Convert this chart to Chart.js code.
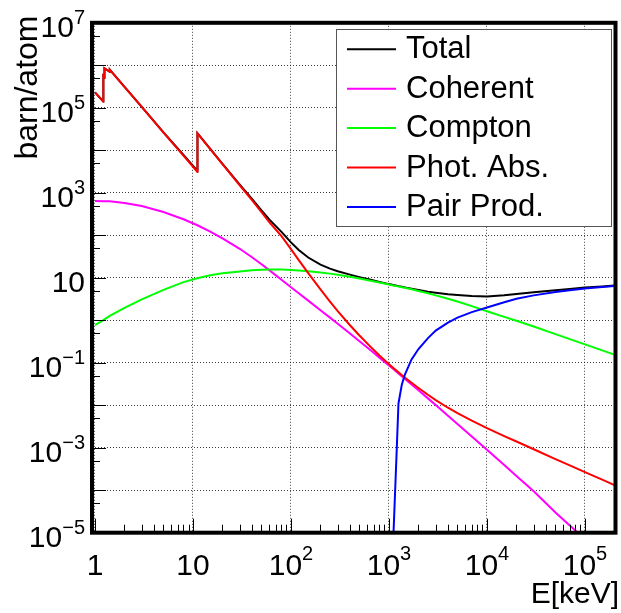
<!DOCTYPE html>
<html>
<head>
<meta charset="utf-8">
<script src="https://cdn.jsdelivr.net/npm/chart.js@4.4.1/dist/chart.umd.min.js"></script>
<style>
  html, body { margin: 0; padding: 0; background: #fff; }
  canvas { display: block; }
</style>
</head>
<body>
<canvas id="c" width="621" height="613"></canvas>
<script>
// photon cross sections, barn/atom, vs energy in keV
const energy = [1, 1.216, 1.217, 1.248, 1.249, 1.414, 1.415, 2, 3, 5, 8, 11.1, 11.11, 15, 20, 30, 40, 50, 60, 80,
  100, 120, 150, 200, 250, 300, 400, 500, 650, 800, 1000, 1022, 1100, 1200, 1250, 1350, 1450, 1700, 2000, 2500,
  3000, 4000, 5000, 7000, 1e4, 1.5e4, 2e4, 3e4, 5e4, 7e4, 1e5, 1.5e5, 2e5];

const total = [2.307e5, 1.406e5, 5.506e5, 5.106e5, 8.506e5, 7.006e5, 7.906e5, 3.106e5, 1.055e5, 2.636e4, 7746, 3282,
  2.518e4, 1.083e4, 4798, 1562, 715, 386, 236, 120, 68, 45, 29.9, 20.3, 16.4, 14.27, 11.85, 10.36, 8.93, 7.98, 7.08,
  7.02, 6.75, 6.48, 6.35, 6.13, 5.94, 5.54, 5.16, 4.71, 4.44, 4.09, 3.91, 3.71, 3.63, 3.85, 4.17, 4.56, 5.07, 5.46,
  5.87, 6.25, 6.56];

const coherent = [640, 635, 635, 634, 634, 630, 630, 577, 489, 353, 238, 172, 172, 122, 84.7, 48, 30.3, 20.8, 15.1, 9.0,
  6.0, 4.33, 2.89, 1.72, 1.15, 0.826, 0.486, 0.321, 0.196, 0.132, 0.0865, 0.083, 0.0718, 0.0607, 0.0561, 0.0483,
  0.0421, 0.0309, 0.0225, 0.0145, 0.0101, 0.00568, 0.00363, 0.00184, 8.9e-4, 3.9e-4, 2.16e-4, 9.4e-5, 3.0e-5,
  1.48e-5, 7.1e-6, 3.0e-6, 1.66e-6];

const compton = [0.77, 1.01, 1.01, 1.05, 1.05, 1.26, 1.26, 1.95, 3.1, 5.2, 7.9, 9.77, 9.77, 11.43, 12.7, 14.1, 15.0,
  15.5, 15.7, 15.6, 15.2, 14.8, 14.2, 13.3, 12.5, 11.8, 10.6, 9.6, 8.5, 7.7, 6.9, 6.85, 6.6, 6.35, 6.22, 6.0, 5.8,
  5.35, 4.9, 4.3, 3.85, 3.2, 2.75, 2.15, 1.63, 1.2, 0.97, 0.71, 0.47, 0.36, 0.27, 0.195, 0.155];

const photAbs = [2.3e5, 1.4e5, 5.5e5, 5.1e5, 8.5e5, 7.0e5, 7.9e5, 3.1e5, 1.05e5, 2.6e4, 7.5e3, 3.1e3, 2.5e4, 1.07e4,
  4.7e3, 1.5e3, 670, 350, 205, 95, 47, 25.9, 12.8, 5.3, 2.75, 1.64, 0.762, 0.437, 0.236, 0.148, 0.0927, 0.0887,
  0.0764, 0.0644, 0.0596, 0.0515, 0.0451, 0.0338, 0.0255, 0.0176, 0.0132, 0.00873, 0.00649, 0.00432, 0.0029,
  0.00188, 0.0014, 9.2e-4, 5.4e-4, 3.85e-4, 2.67e-4, 1.77e-4, 1.32e-4];

const pairProd = [null, null, null, null, null, null, null, null, null, null, null, null, null, null, null, null, null,
  null, null, null, null, null, null, null, null, null, null, null, null, null, null, null, 5e-6, 9e-4, 0.011, 0.03,
  0.052, 0.12, 0.21, 0.38, 0.57, 0.88, 1.15, 1.55, 2.0, 2.65, 3.2, 3.85, 4.6, 5.1, 5.6, 6.05, 6.4];

// axes
const xMin = 0.932, xMax = 2.05e5;
const yMin = 1e-5, yMax = 1e7;
const xGrid = [1, 10, 100, 1e3, 1e4, 1e5];
const yGrid = [1e-5, 1e-4, 1e-3, 1e-2, 1e-1, 1, 10, 100, 1e3, 1e4, 1e5, 1e6, 1e7];
const xTickVals = [1, 10, 100, 1e3, 1e4, 1e5];
const xTickLabels = [['1', ''], ['10', ''], ['10', '2'], ['10', '3'], ['10', '4'], ['10', '5']];
const yTickVals = [1e7, 1e5, 1e3, 10, 1e-1, 1e-3, 1e-5];
const yTickLabels = [['10', '7'], ['10', '5'], ['10', '3'], ['10', ''], ['10', '\u22121'], ['10', '\u22123'], ['10', '\u22125']];

const FONT = '"Liberation Sans", Arial, Helvetica, sans-serif';

function series(label, vals, color, order) {
  return {
    label, order,
    data: energy.map((e, i) => ({x: e, y: vals[i]})),
    borderColor: color, backgroundColor: color,
    borderWidth: 2, pointRadius: 0, tension: 0, fill: false, spanGaps: false
  };
}

function drawPow(ctx, base, exp, x, yb, supUp, align) {
  ctx.font = '30px ' + FONT;
  const wb = ctx.measureText(base).width;
  ctx.font = '20px ' + FONT;
  const we = exp ? ctx.measureText(exp).width : 0;
  const x0 = align === 'right' ? x - wb - we : x - (wb + we) / 2;
  ctx.textAlign = 'left';
  ctx.textBaseline = 'alphabetic';
  ctx.font = '30px ' + FONT;
  ctx.fillText(base, x0, yb);
  if (exp) {
    ctx.font = '20px ' + FONT;
    ctx.fillText(exp, x0 + wb, yb - supUp);
  }
}

const rootStyle = {
  id: 'rootStyle',
  afterDraw(chart) {
    const {ctx, chartArea: a, scales: {x, y}} = chart;
    ctx.save();

    // ticks pointing inward
    ctx.strokeStyle = '#000';
    ctx.lineWidth = 1;
    ctx.beginPath();
    for (let d = 0; d <= 5; d++) {
      for (let m = 1; m <= 9; m++) {
        const v = m * Math.pow(10, d);
        if (v > xMax) break;
        const px = Math.round(x.getPixelForValue(v)) + 0.5;
        ctx.moveTo(px, a.bottom);
        ctx.lineTo(px, a.bottom - (m === 1 ? 14 : 8));
      }
    }
    for (let k = -5; k <= 7; k++) {
      let py = Math.round(y.getPixelForValue(Math.pow(10, k))) + 0.5;
      ctx.moveTo(a.left, py);
      ctx.lineTo(a.left + 14, py);
      if (k > -5) {
        py = Math.round(y.getPixelForValue(5 * Math.pow(10, k - 1))) + 0.5;
        ctx.moveTo(a.left, py);
        ctx.lineTo(a.left + 8, py);
      }
    }
    ctx.stroke();

    // frame
    ctx.lineWidth = 4;
    ctx.strokeRect(a.left, a.top, a.right - a.left, a.bottom - a.top);

    // tick labels
    ctx.fillStyle = '#000';
    xTickVals.forEach((v, i) => {
      drawPow(ctx, xTickLabels[i][0], xTickLabels[i][1], x.getPixelForValue(v), a.bottom + 42, 14.5, 'center');
    });
    yTickVals.forEach((v, i) => {
      drawPow(ctx, yTickLabels[i][0], yTickLabels[i][1], 85, y.getPixelForValue(v) + 14, 12.5, 'right');
    });

    // axis titles
    ctx.font = '30px ' + FONT;
    ctx.textAlign = 'right';
    ctx.textBaseline = 'alphabetic';
    ctx.fillText('E[keV]', 619, 603);
    ctx.save();
    ctx.translate(37, 15.5);
    ctx.rotate(-Math.PI / 2);
    ctx.font = '32px ' + FONT;
    ctx.fillText('barn/atom', 0, 0);
    ctx.restore();

    // legend
    const lx = 336.5, ly = 29.5, lw = 275, lh = 197;
    ctx.fillStyle = '#fff';
    ctx.fillRect(lx, ly, lw, lh);
    ctx.strokeStyle = '#555';
    ctx.lineWidth = 1;
    ctx.strokeRect(lx, ly, lw, lh);
    ctx.font = '31px ' + FONT;
    ctx.textAlign = 'left';
    chart.data.datasets.forEach((ds, i) => {
      const cy = 49.3 + i * 39.4;
      ctx.strokeStyle = ds.borderColor;
      ctx.lineWidth = 2;
      ctx.beginPath();
      ctx.moveTo(347, cy);
      ctx.lineTo(396, cy);
      ctx.stroke();
      ctx.fillStyle = '#000';
      ctx.fillText(ds.label, 406, cy + 9);
    });

    ctx.restore();
  }
};

const gridColor = 'rgba(0,0,0,0.75)';

new Chart(document.getElementById('c'), {
  type: 'line',
  data: {
    datasets: [
      series('Total', total, '#000000', 5),
      series('Coherent', coherent, '#ff00ff', 4),
      series('Compton', compton, '#00ff00', 3),
      series('Phot. Abs.', photAbs, '#ff0000', 2),
      series('Pair Prod.', pairProd, '#0000ff', 1)
    ]
  },
  options: {
    responsive: false,
    animation: false,
    devicePixelRatio: 1,
    layout: {padding: {left: 92, right: 5.5, top: 22.8, bottom: 80.3}},
    plugins: {legend: {display: false}, tooltip: {enabled: false}},
    scales: {
      x: {
        type: 'logarithmic', min: xMin, max: xMax,
        afterBuildTicks: s => { s.ticks = xGrid.map(v => ({value: v})); },
        ticks: {display: false},
        grid: {drawTicks: false, color: gridColor, lineWidth: 1},
        border: {display: false, dash: [1, 2]}
      },
      y: {
        type: 'logarithmic', min: yMin, max: yMax,
        afterBuildTicks: s => { s.ticks = yGrid.map(v => ({value: v})); },
        ticks: {display: false},
        grid: {drawTicks: false, color: gridColor, lineWidth: 1},
        border: {display: false, dash: [1, 2]}
      }
    }
  },
  plugins: [rootStyle]
});
</script>
</body>
</html>
